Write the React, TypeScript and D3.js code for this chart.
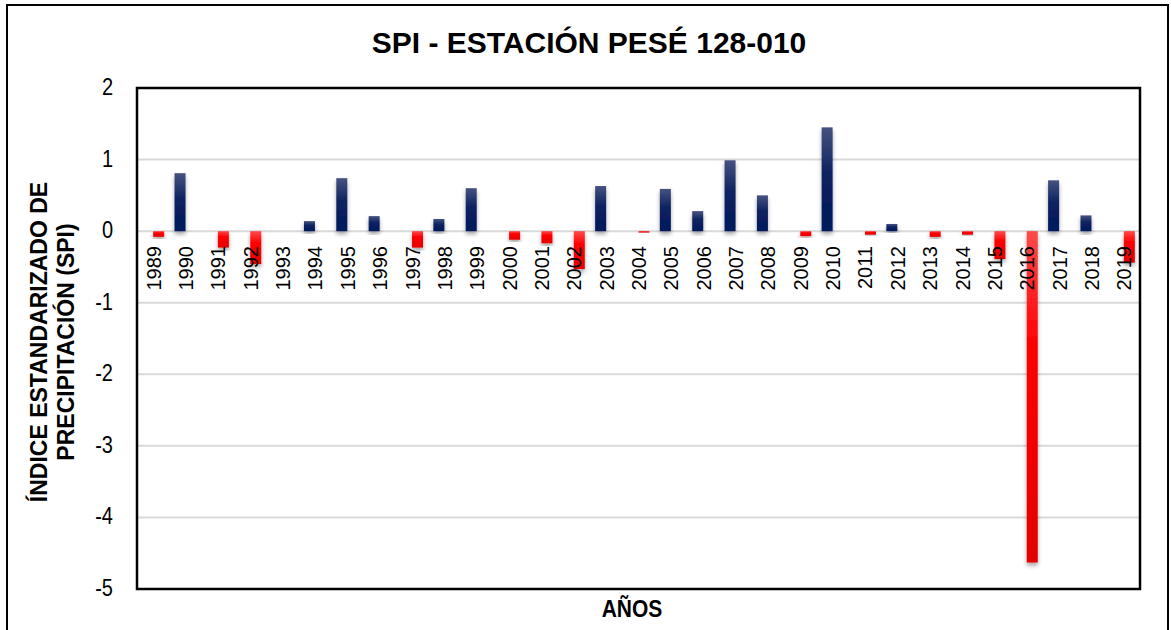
import React from "react";
import * as d3 from "d3";

const years: string[] = [
  "1989","1990","1991","1992","1993","1994","1995","1996","1997","1998",
  "1999","2000","2001","2002","2003","2004","2005","2006","2007","2008",
  "2009","2010","2011","2012","2013","2014","2015","2016","2017","2018","2019",
];
const spi: number[] = [
  -0.08, 0.81, -0.23, -0.46, 0, 0.14, 0.74, 0.21, -0.23, 0.17,
  0.6, -0.12, -0.17, -0.53, 0.63, -0.02, 0.59, 0.28, 0.99, 0.5,
  -0.07, 1.45, -0.05, 0.1, -0.08, -0.05, -0.39, -4.63, 0.71, 0.22, -0.44,
];
const yTicks: number[] = [2, 1, 0, -1, -2, -3, -4, -5];
const seriesKeys: string[] = ["pos", "neg"];

const W = 1171;
const H = 630;
const plot = { left: 137, top: 88, right: 1140, bottom: 589 };

export default function App() {
  const x0 = d3
    .scaleBand<string>()
    .domain(years)
    .range([plot.left, plot.right])
    .paddingInner(0.32)
    .paddingOuter(0.16);
  const x1 = d3.scaleBand<string>().domain(seriesKeys).range([0, x0.bandwidth()]);
  const y = d3.scaleLinear().domain([-5, 2]).range([plot.bottom, plot.top]);

  const bars = years.map((yr, i) => {
    const v = spi[i];
    const key = v >= 0 ? "pos" : "neg";
    const bx = (x0(yr) as number) + (x1(key) as number);
    const y0 = y(0);
    const y1 = y(v);
    return { yr, v, key, x: bx, y: Math.min(y0, y1), h: Math.abs(y1 - y0) };
  });

  return (
    <div style={{ position: "absolute", left: 0, top: 0 }}>
      <svg width={W} height={H} style={{ display: "block", background: "#fff" }}>
        <defs>
          <linearGradient id="gBlue" x1="0" y1="0" x2="0" y2="1">
            <stop offset="0%" stopColor="#465280" />
            <stop offset="45%" stopColor="#0d2160" />
            <stop offset="100%" stopColor="#001a5c" />
          </linearGradient>
          <linearGradient id="gRed" x1="0" y1="0" x2="0" y2="1">
            <stop offset="0%" stopColor="#ff4a4a" />
            <stop offset="35%" stopColor="#ff0000" />
            <stop offset="100%" stopColor="#e30000" />
          </linearGradient>
          <filter id="shadow" x="-50%" y="-20%" width="200%" height="140%">
            <feDropShadow dx="0" dy="3" stdDeviation="2.2" floodColor="#000" floodOpacity="0.35" />
          </filter>
        </defs>

        {/* outer border */}
        <rect x={7} y={5} width={1161} height={640} fill="#fff" stroke="#000" strokeWidth={2} />

        {/* title */}
        <text
          x={589}
          y={53}
          textAnchor="middle"
          fontFamily="'Liberation Sans', Arial, sans-serif"
          fontWeight="bold"
          fontSize={30}
          fill="#000"
        >
          SPI - ESTACIÓN PESÉ 128-010
        </text>

        {/* gridlines */}
        {yTicks.map((t) => (
          <line
            key={"g" + t}
            x1={plot.left}
            x2={plot.right}
            y1={y(t)}
            y2={y(t)}
            stroke="#d9d9d9"
            strokeWidth={2}
          />
        ))}

        {/* bars */}
        {bars.map((b) =>
          b.h > 0 ? (
            <rect
              key={"b" + b.yr}
              x={b.x}
              y={b.y}
              width={x1.bandwidth()}
              height={b.h}
              fill={b.key === "pos" ? "url(#gBlue)" : "url(#gRed)"}
              filter="url(#shadow)"
            />
          ) : null
        )}

        {/* category labels */}
        {years.map((yr) => {
          const cx = (x0(yr) as number) + x0.bandwidth() / 2;
          return (
            <text
              key={"l" + yr}
              transform={`translate(${cx + 7.5},246) rotate(-90)`}
              textAnchor="end"
              fontFamily="'Liberation Sans', Arial, sans-serif"
              fontSize={20}
              fill="#000"
            >
              {yr}
            </text>
          );
        })}

        {/* plot frame */}
        <rect
          x={plot.left}
          y={plot.top}
          width={plot.right - plot.left}
          height={plot.bottom - plot.top}
          fill="none"
          stroke="#000"
          strokeWidth={2.5}
        />

        {/* y tick labels */}
        {yTicks.map((t) => (
          <text
            key={"t" + t}
            transform={`translate(113,${y(t) + 7}) scale(1,1.2)`}
            textAnchor="end"
            fontFamily="'Liberation Sans', Arial, sans-serif"
            fontSize={20}
            fill="#000"
          >
            {t}
          </text>
        ))}

        {/* y axis title */}
        <text
          transform={`translate(47,342) rotate(-90)`}
          textAnchor="middle"
          fontFamily="'Liberation Sans', Arial, sans-serif"
          fontWeight="bold"
          fontSize={23}
          fill="#000"
        >
          ÍNDICE ESTANDARIZADO DE
        </text>
        <text
          transform={`translate(74,342) rotate(-90)`}
          textAnchor="middle"
          fontFamily="'Liberation Sans', Arial, sans-serif"
          fontWeight="bold"
          fontSize={23}
          fill="#000"
        >
          PRECIPITACIÓN (SPI)
        </text>

        {/* x axis title */}
        <text
          transform={`translate(632,617) scale(1,1.15)`}
          textAnchor="middle"
          fontFamily="'Liberation Sans', Arial, sans-serif"
          fontWeight="bold"
          fontSize={21}
          fill="#000"
        >
          AÑOS
        </text>
      </svg>
    </div>
  );
}
